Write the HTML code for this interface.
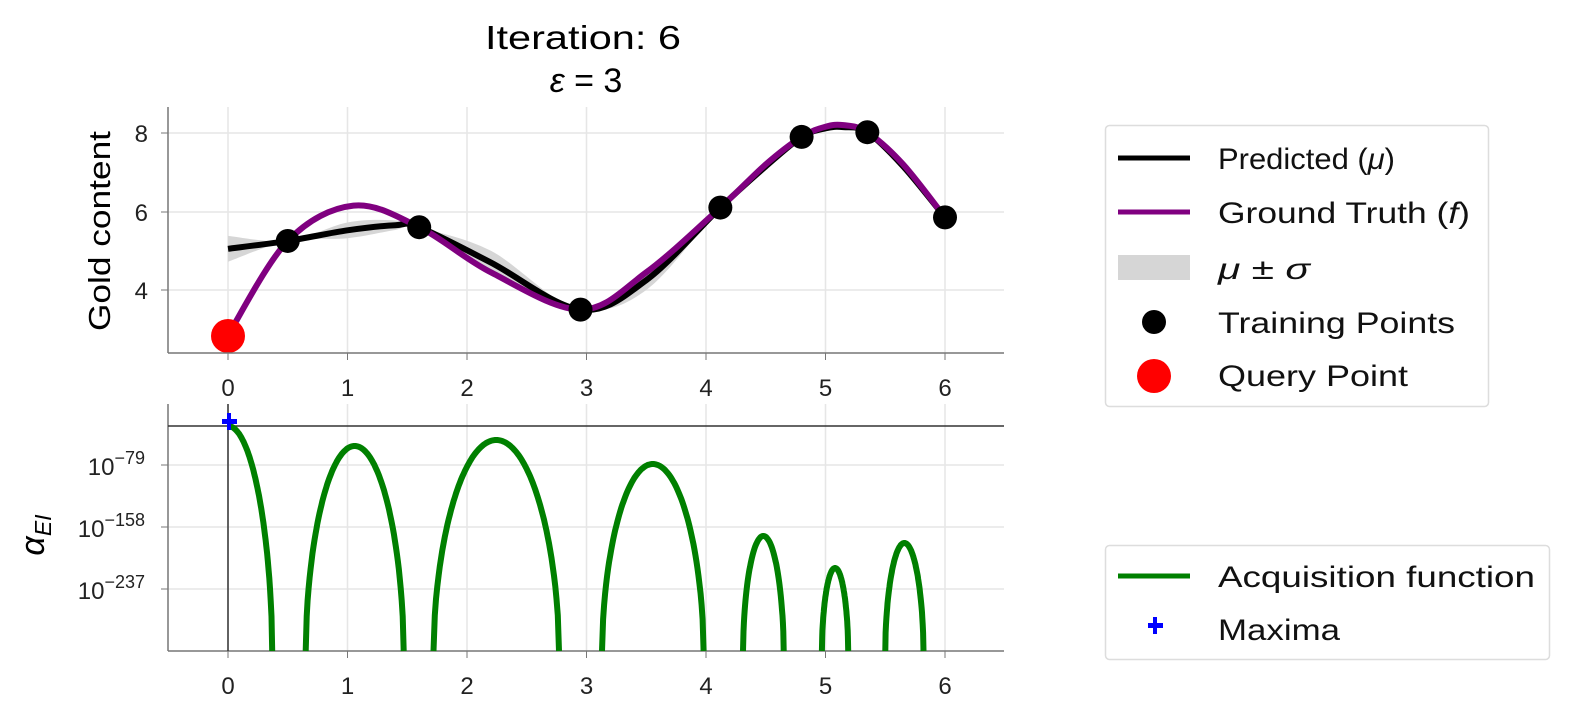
<!DOCTYPE html>
<html><head><meta charset="utf-8"><style>
body{margin:0;background:#fff;}
svg{display:block;font-family:"Liberation Sans","DejaVu Sans",sans-serif;}
</style></head><body>
<svg id="s" width="1569" height="721" viewBox="0 0 1569 721">
<g stroke="#e6e6e6" stroke-width="1.5" id="grid"></g>
<text x="583" y="49" font-size="33" text-anchor="middle" textLength="196" lengthAdjust="spacingAndGlyphs">Iteration: 6</text>
<text x="586" y="92" font-size="34" text-anchor="middle"><tspan font-style="italic">ε</tspan> = 3</text>
<path id="band" fill="#d6d6d6" stroke="none"/>
<path id="mu" fill="none" stroke="#000" stroke-width="6"/>
<path id="gt" fill="none" stroke="#800080" stroke-width="6"/>
<g id="pts"></g>
<circle cx="228" cy="336" r="17" fill="#ff0000"/>
<line x1="168" y1="107" x2="168" y2="353" stroke="#777" stroke-width="1.5"/>
<line x1="168" y1="353" x2="1004" y2="353" stroke="#777" stroke-width="1.5"/>
<text x="110" y="231" font-size="31" text-anchor="middle" transform="rotate(-90 110 231)" textLength="200" lengthAdjust="spacingAndGlyphs">Gold content</text>
<g id="ticks" font-size="24" fill="#222"></g>
<line x1="168" y1="404" x2="168" y2="651" stroke="#777" stroke-width="1.5"/>
<line x1="168" y1="651" x2="1004" y2="651" stroke="#777" stroke-width="1.5"/>
<line x1="168" y1="426" x2="1004" y2="426" stroke="#333" stroke-width="1.5"/>
<line x1="228" y1="404" x2="228" y2="651" stroke="#333" stroke-width="1.5"/>
<path id="acq" fill="none" stroke="#008000" stroke-width="6"/>
<path d="M222 419h5v-6h4v6h6v5h-6v6h-4v-6h-5z" fill="#0000ff"/>
<text x="44" y="535" font-size="34" text-anchor="middle" transform="rotate(-90 44 535)"><tspan font-style="italic">α</tspan><tspan font-size="23" font-style="italic" dy="7">EI</tspan></text>
<rect x="1105.5" y="125.5" width="383" height="281" rx="4" fill="#fff" stroke="#ddd" stroke-width="1.5"/>
<line x1="1118" y1="158" x2="1190" y2="158" stroke="#000" stroke-width="5"/>
<line x1="1118" y1="212" x2="1190" y2="212" stroke="#800080" stroke-width="5"/>
<rect x="1118" y="255" width="72" height="25" fill="#d6d6d6"/>
<circle cx="1154" cy="322" r="12" fill="#000"/>
<circle cx="1154" cy="376" r="17" fill="#ff0000"/>
<g font-size="30" fill="#111">
<text x="1218" y="169" textLength="177" lengthAdjust="spacingAndGlyphs">Predicted (<tspan font-style="italic">μ</tspan>)</text>
<text x="1218" y="223" textLength="252" lengthAdjust="spacingAndGlyphs">Ground Truth (<tspan font-style="italic">f</tspan>)</text>
<text x="1218" y="279" textLength="92" lengthAdjust="spacingAndGlyphs"><tspan font-style="italic">μ</tspan> ± <tspan font-style="italic">σ</tspan></text>
<text x="1218" y="333" textLength="237" lengthAdjust="spacingAndGlyphs">Training Points</text>
<text x="1218" y="386" textLength="190" lengthAdjust="spacingAndGlyphs">Query Point</text>
</g>
<rect x="1105.5" y="545.5" width="444" height="114" rx="4" fill="#fff" stroke="#ddd" stroke-width="1.5"/>
<line x1="1118" y1="576" x2="1190" y2="576" stroke="#008000" stroke-width="5"/>
<path d="M1148 625h5v-6h4v6h6v5h-6v6h-4v-6h-5z" transform="translate(0 -2)" fill="#0000ff"/>
<g font-size="30" fill="#111">
<text x="1218" y="587" textLength="317" lengthAdjust="spacingAndGlyphs">Acquisition function</text>
<text x="1218" y="640" textLength="122" lengthAdjust="spacingAndGlyphs">Maxima</text>
</g>
</svg>
<script>
const X=v=>228+v*119.5, Y=v=>133+(8-v)*39.25;
function cr(p){let d="M"+p[0][0]+" "+p[0][1];for(let i=0;i<p.length-1;i++){const a=p[Math.max(0,i-1)],b=p[i],c=p[i+1],e=p[Math.min(p.length-1,i+2)];d+=" C"+(b[0]+(c[0]-a[0])/6)+" "+(b[1]+(c[1]-a[1])/6)+" "+(c[0]-(e[0]-b[0])/6)+" "+(c[1]-(e[1]-b[1])/6)+" "+c[0]+" "+c[1];}return d;}
const P=a=>a.map(q=>[X(q[0]),Y(q[1])]);
const gt=[[0,2.85],[0.5,5.25],[1.05,6.15],[1.6,5.6],[2.2,4.45],[2.95,3.5],[3.5,4.45],[4.12,6.1],[4.5,7.2],[4.8,7.9],[5.0,8.16],[5.15,8.2],[5.35,8.02],[5.65,7.2],[6,5.85]];
const mu=[[0,5.05],[0.5,5.25],[1,5.52],[1.4,5.65],[1.6,5.6],[2.2,4.7],[2.95,3.5],[3.5,4.25],[4.12,6.1],[4.5,7.15],[4.8,7.9],[5.0,8.12],[5.15,8.15],[5.35,8.02],[5.65,7.15],[6,5.85]];
const sg=[0.33,0,0.2,0.12,0,0.3,0,0.25,0,0.05,0,0.04,0.04,0,0.05,0];
document.getElementById('gt').setAttribute('d',cr(P(gt)));
document.getElementById('mu').setAttribute('d',cr(P(mu)));
const up=P(mu.map((q,i)=>[q[0],q[1]+sg[i]])),dn=P(mu.map((q,i)=>[q[0],q[1]-sg[i]])).reverse();
document.getElementById('band').setAttribute('d',cr(up)+" L"+dn[0][0]+" "+dn[0][1]+cr(dn).replace(/^M[^C]*/," ")+"Z");
let s="";[[0.5,5.25],[1.6,5.6],[2.95,3.5],[4.12,6.1],[4.8,7.9],[5.35,8.02],[6,5.85]].forEach(q=>s+=`<circle cx="${X(q[0])}" cy="${Y(q[1])}" r="12" fill="#000"/>`);
document.getElementById('pts').innerHTML=s;
let g="";for(let i=0;i<=6;i++){g+=`<line x1="${X(i)}" y1="107" x2="${X(i)}" y2="353"/><line x1="${X(i)}" y1="404" x2="${X(i)}" y2="651"/>`;}
[133,212,290,465,527,589].forEach(y=>g+=`<line x1="168" y1="${y}" x2="1004" y2="${y}"/>`);
document.getElementById('grid').innerHTML=g;
let t="";for(let i=0;i<=6;i++){t+=`<text x="${X(i)}" y="396" text-anchor="middle">${i}</text><text x="${X(i)}" y="694" text-anchor="middle">${i}</text><line x1="${X(i)}" y1="353" x2="${X(i)}" y2="360" stroke="#777"/><line x1="${X(i)}" y1="651" x2="${X(i)}" y2="658" stroke="#777"/>`;}
[[133,"8"],[212,"6"],[290,"4"]].forEach(q=>t+=`<text x="148" y="${q[0]+9}" text-anchor="end">${q[1]}</text><line x1="161" y1="${q[0]}" x2="168" y2="${q[0]}" stroke="#777"/>`);
[[465,"79"],[527,"158"],[589,"237"]].forEach(q=>t+=`<text x="145" y="${q[0]+10}" text-anchor="end">10<tspan font-size="18" dy="-11">−${q[1]}</tspan></text><line x1="161" y1="${q[0]}" x2="168" y2="${q[0]}" stroke="#777"/>`);
document.getElementById('ticks').innerHTML=t;
const arches=[[0.65,1.47,446],[1.72,2.77,440],[3.13,3.98,464],[4.31,4.65,536],[4.97,5.19,568],[5.5,5.82,543]];
let d="";
{const h=0.37,pk=426;for(let k=0;k<=60;k++){const x=h*k/60,u=x/h;const y=651-(651-pk)*Math.pow(Math.max(0,1-u*u),0.55);d+=(k?"L":"M")+X(x).toFixed(1)+" "+y.toFixed(1);}}
arches.forEach(a=>{const c=(a[0]+a[1])/2,h=(a[1]-a[0])/2;for(let k=0;k<=100;k++){const x=a[0]+(a[1]-a[0])*k/100,u=(x-c)/h;const y=651-(651-a[2])*Math.pow(Math.max(0,1-u*u),0.55);d+=(k?"L":"M")+X(x).toFixed(1)+" "+y.toFixed(1);}});
document.getElementById('acq').setAttribute('d',d);
</script>
</body></html>
